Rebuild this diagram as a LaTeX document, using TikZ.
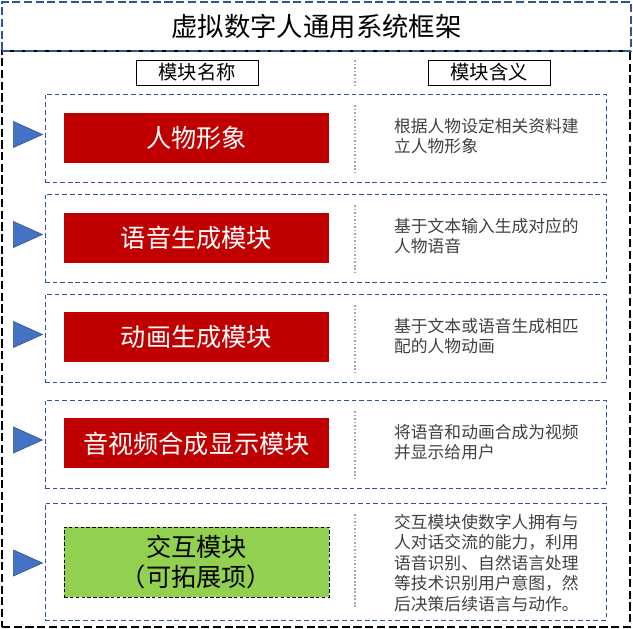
\documentclass[tikz,border=0pt]{standalone}
\usepackage{fontspec}
\setmainfont{Noto Sans CJK SC}
\usepackage{xcolor}
\usepackage{tikz}
\usetikzlibrary{positioning,shapes.geometric}
\definecolor{dashblue}{HTML}{2F5597}
\definecolor{triblue}{HTML}{4472C4}
\definecolor{modred}{HTML}{C00000}
\definecolor{extgreen}{HTML}{92D050}
\tikzset{
  frame/.style={draw=black, line width=1.3pt, dash pattern=on 7pt off 3pt,
    minimum width=18.84cm, minimum height=17.28cm, inner sep=0pt},
  titlebox/.style={draw=dashblue, line width=1pt, dash pattern=on 7pt off 3pt,
    minimum width=18.87cm, minimum height=1.47cm, inner sep=0pt,
    font=\fontsize{22.5}{26}\selectfont},
  hdr/.style={draw=black, line width=0.8pt, minimum width=3.66cm,
    minimum height=0.75cm, inner sep=0pt, font=\fontsize{16.5}{20}\selectfont},
  rowbox/.style={draw=dashblue, line width=0.8pt, dash pattern=on 4pt off 2.5pt,
    minimum width=16.83cm, minimum height=#1, inner sep=0pt},
  rowbox/.default=2.64cm,
  modbox/.style={fill=modred, text=white, minimum width=7.95cm,
    minimum height=1.5cm, inner sep=0pt, font=\fontsize{21.5}{26}\selectfont},
  extbox/.style={modbox, fill=extgreen, text=black, draw=black, line width=0.8pt,
    dash pattern=on 3pt off 2pt, minimum height=2.1cm, align=center,
    font=\fontsize{21.5}{25.5}\selectfont},
  desc/.style={anchor=west, align=left, text=black!75, inner sep=0pt,
    font=\fontsize{14.3}{17.5}\selectfont},
  sepline/.style={draw=black!35, line width=0.9pt, dash pattern=on 1.5pt off 1.5pt},
  marker/.style={isosceles triangle, isosceles triangle stretches, anchor=west,
    fill=triblue, draw=triblue!75!black, line width=0.6pt, inner sep=0pt,
    minimum width=0.78cm, minimum height=0.87cm},
}

\begin{document}
\begin{tikzpicture}[x=0.03cm, y=-0.03cm]
  \useasboundingbox (0,0) rectangle (633,629);

  \node[frame] (outer) at (316,339) {};
  \node[titlebox] (title) at (316.5,26.5) {虚拟数字人通用系统框架};

  \node[hdr] (hdrname) at (197,72.5) {模块名称};
  \node[hdr] (hdrmean) at (489,72.5) {模块含义};
  \draw[sepline] (355,60) -- (355,85);

  % rows
  \node[rowbox] (row1) at (325.5,138) {};
  \node[rowbox] (row2) at (325.5,238) {};
  \node[rowbox] (row3) at (325.5,338) {};
  \node[rowbox] (row4) at (325.5,444) {};
  \node[rowbox=3.51cm] (row5) at (325.5,561.5) {};

  \foreach \a/\b in {105/172,205/272,305/372,411/478,514/608}
    \draw[sepline] (355,\a) -- (355,\b);

  \node[modbox] (image) at (196.5,138) {人物形象};
  \node[modbox] (speech) at (196.5,238) {语音生成模块};
  \node[modbox] (anim) at (196.5,337.5) {动画生成模块};
  \node[modbox] (avsyn) at (196.5,443.5) {音视频合成显示模块};
  \node[extbox] (inter) at (196.5,562) {交互模块\\（可拓展项）};

  \node[desc] (imagetxt) at (394,136) {根据人物设定相关资料建\\立人物形象};
  \node[desc] (speechtxt) at (394,236) {基于文本输入生成对应的\\人物语音};
  \node[desc] (animtxt) at (394,336) {基于文本或语音生成相匹\\配的人物动画};
  \node[desc] (avsyntxt) at (394,442) {将语音和动画合成为视频\\并显示给用户};
  \node[desc] (intertxt) at (394,563) {交互模块使数字人拥有与\\人对话交流的能力，利用\\语音识别、自然语言处理\\等技术识别用户意图，然\\后决策后续语言与动作。};

  \node[marker] (mark1) at (13,134.5) {};
  \node[marker] (mark2) at (13,234.5) {};
  \node[marker] (mark3) at (13,334.5) {};
  \node[marker] (mark4) at (13,440) {};
  \node[marker] (mark5) at (13,563) {};
\end{tikzpicture}
\end{document}
